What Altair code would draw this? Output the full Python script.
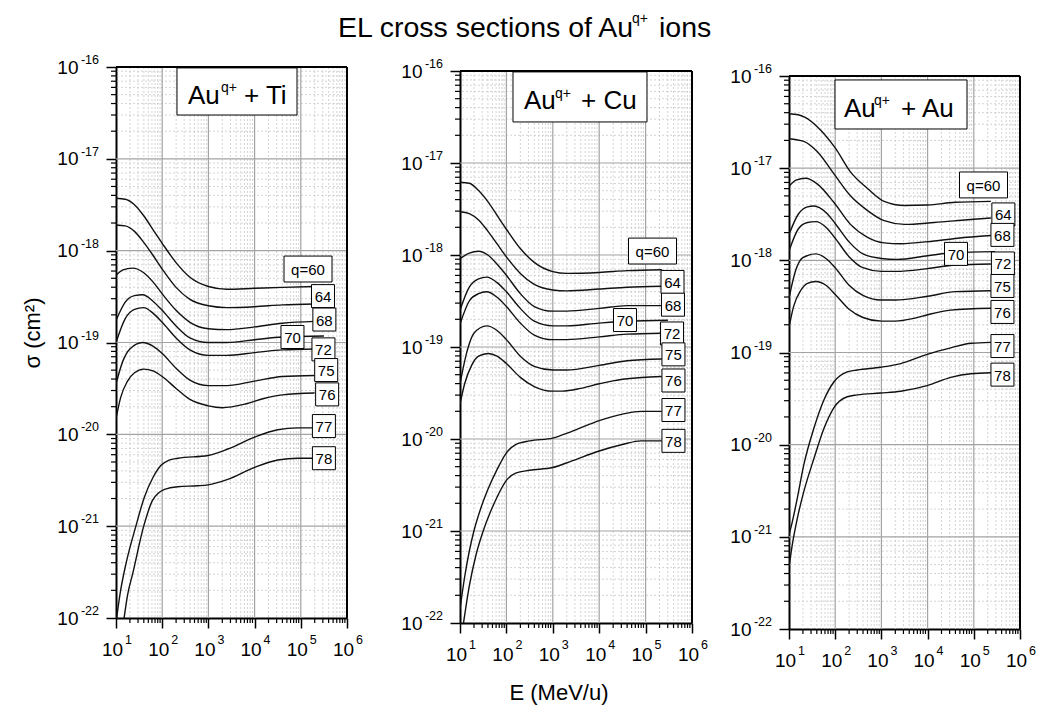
import altair as alt
import pandas as pd

FONT = "Liberation Sans"
# plot areas: left/right edges and top/bottom of each panel in the page
PANEL_W = [231, 232, 231]
GAPS = [113, 97]
VIEW_H = [551, 556, 562]     # every view starts at the same top; the bottoms differ
PLOT_TOP = [0, 4, 9]         # where 1e-16 sits inside each view

Q_ORDER = [60, 64, 68, 70, 72, 75, 76, 77, 78]
LABEL_TEXT = ["q=60", "64", "68", "70", "72", "75", "76", "77", "78"]

X_TICKS = [1e1, 1e2, 1e3, 1e4, 1e5, 1e6]
X_EXP = ["1", "2", "3", "4", "5", "6"]
Y_TICKS = [1e-22, 1e-21, 1e-20, 1e-19, 1e-18, 1e-17, 1e-16]
Y_EXP = ["-22", "-21", "-20", "-19", "-18", "-17", "-16"]

# ---------------- Au^q+ + Ti  (log10 E [MeV/u], log10 sigma [cm^2])
TI_LOGE = {
    60: [1.0, 1.2, 1.4, 1.6, 1.8, 2.0, 2.3, 2.6, 3.0, 3.4, 4.0, 4.6, 5.3],
    64: [1.0, 1.2, 1.4, 1.6, 1.8, 2.0, 2.3, 2.6, 3.0, 3.4, 4.0, 4.6, 5.3],
    68: [1.0, 1.15, 1.36, 1.6, 1.8, 2.0, 2.3, 2.6, 3.0, 3.4, 4.0, 4.6, 5.3],
    70: [1.0, 1.2, 1.4, 1.58, 1.8, 2.0, 2.3, 2.6, 3.0, 3.4, 4.0, 4.6, 5.5],
    72: [1.0, 1.2, 1.4, 1.6, 1.8, 2.0, 2.3, 2.6, 3.0, 3.4, 4.0, 4.6, 5.3],
    75: [1.0, 1.15, 1.3, 1.58, 1.8, 2.0, 2.3, 2.6, 3.0, 3.4, 4.0, 4.6, 5.3],
    76: [1.0, 1.1, 1.25, 1.4, 1.6, 1.8, 2.0, 2.3, 2.6, 3.0, 3.3, 3.8, 4.2, 4.6, 5.3],
    77: [1.0, 1.1, 1.22, 1.43, 1.61, 1.8, 1.97, 2.15, 2.34, 2.99, 3.42, 4.0, 4.5, 4.94, 5.26],
    78: [1.17, 1.25, 1.36, 1.6, 1.79, 2.05, 2.34, 2.77, 2.99, 3.42, 4.0, 4.5, 4.94, 5.26],
}
TI_LOGS = {
    60: [-17.43, -17.44, -17.50, -17.62, -17.77, -17.92, -18.13, -18.29, -18.39, -18.42, -18.41, -18.40, -18.39],
    64: [-17.72, -17.73, -17.79, -17.91, -18.05, -18.20, -18.40, -18.53, -18.60, -18.62, -18.61, -18.59, -18.58],
    68: [-18.27, -18.21, -18.19, -18.24, -18.34, -18.47, -18.65, -18.78, -18.85, -18.86, -18.83, -18.79, -18.77],
    70: [-18.76, -18.56, -18.49, -18.48, -18.55, -18.65, -18.82, -18.95, -19.00, -19.00, -18.97, -18.94, -18.93],
    72: [-19.00, -18.74, -18.64, -18.62, -18.68, -18.78, -18.95, -19.08, -19.14, -19.14, -19.11, -19.08, -19.07],
    75: [-19.45, -19.20, -19.07, -19.00, -19.04, -19.12, -19.28, -19.41, -19.47, -19.47, -19.42, -19.37, -19.36],
    76: [-19.83, -19.60, -19.42, -19.33, -19.29, -19.31, -19.37, -19.50, -19.62, -19.69, -19.71, -19.67, -19.61, -19.57, -19.55],
    77: [-22.05, -21.70, -21.40, -21.00, -20.69, -20.47, -20.34, -20.28, -20.26, -20.23, -20.16, -20.03, -19.95, -19.93, -19.93],
    78: [-22.02, -21.75, -21.52, -21.00, -20.72, -20.60, -20.57, -20.56, -20.55, -20.49, -20.36, -20.28, -20.26, -20.26],
}
TI_LAB_LOGE = [5.156, 5.48, 5.51, 4.82, 5.49, 5.55, 5.57, 5.50, 5.50]
TI_LAB_LOGS = [-18.20, -18.495, -18.75, -18.94, -19.075, -19.30, -19.565, -19.91, -20.26]

# ---------------- Au^q+ + Cu
CU_LOGE = {
    60: [1.0, 1.2, 1.4, 1.6, 1.8, 2.0, 2.3, 2.6, 3.0, 3.3, 4.0, 4.6, 5.35],
    64: [1.0, 1.2, 1.4, 1.6, 1.8, 2.0, 2.3, 2.6, 3.0, 3.3, 4.0, 4.6, 5.35],
    68: [1.0, 1.2, 1.4, 1.6, 1.8, 2.0, 2.3, 2.6, 3.0, 3.3, 4.0, 4.6, 5.35],
    70: [1.0, 1.2, 1.4, 1.575, 1.8, 2.0, 2.3, 2.6, 3.0, 3.3, 4.0, 4.6, 5.48],
    72: [1.0, 1.2, 1.4, 1.575, 1.8, 2.0, 2.3, 2.6, 3.0, 3.3, 4.0, 4.6, 5.35],
    75: [1.0, 1.15, 1.3, 1.575, 1.8, 2.0, 2.3, 2.6, 3.0, 3.3, 4.0, 4.6, 5.35],
    76: [1.0, 1.1, 1.25, 1.4, 1.61, 1.8, 2.0, 2.3, 2.6, 3.0, 3.2, 3.6, 4.0, 4.5, 5.35],
    77: [1.0, 1.1, 1.2, 1.3, 1.45, 1.6, 1.8, 2.0, 2.2, 2.5, 3.0, 3.4, 4.0, 4.5, 4.9, 5.35],
    78: [1.07, 1.2, 1.35, 1.5, 1.65, 1.8, 2.0, 2.2, 2.5, 3.0, 3.4, 4.0, 4.5, 4.9, 5.35],
}
CU_LOGS = {
    60: [-17.21, -17.22, -17.30, -17.42, -17.57, -17.72, -17.93, -18.08, -18.18, -18.20, -18.19, -18.17, -18.16],
    64: [-17.53, -17.55, -17.62, -17.74, -17.88, -18.02, -18.20, -18.32, -18.38, -18.39, -18.37, -18.35, -18.34],
    68: [-18.04, -17.98, -17.96, -18.00, -18.10, -18.22, -18.42, -18.56, -18.61, -18.61, -18.58, -18.55, -18.55],
    70: [-18.60, -18.35, -18.26, -18.24, -18.30, -18.40, -18.58, -18.72, -18.77, -18.77, -18.74, -18.72, -18.71],
    72: [-18.75, -18.50, -18.42, -18.40, -18.46, -18.56, -18.74, -18.87, -18.92, -18.92, -18.89, -18.86, -18.85],
    75: [-19.40, -19.05, -18.85, -18.77, -18.82, -18.92, -19.10, -19.21, -19.25, -19.25, -19.20, -19.15, -19.13],
    76: [-19.62, -19.40, -19.20, -19.10, -19.07, -19.10, -19.18, -19.33, -19.43, -19.48, -19.48, -19.45, -19.40, -19.35, -19.32],
    77: [-21.85, -21.50, -21.22, -21.00, -20.75, -20.55, -20.33, -20.15, -20.06, -20.02, -19.99, -19.92, -19.80, -19.73, -19.70, -19.70],
    78: [-22.02, -21.60, -21.25, -21.00, -20.80, -20.63, -20.45, -20.37, -20.34, -20.31, -20.24, -20.13, -20.06, -20.02, -20.02],
}
CU_LAB_LOGE = [5.149, 5.58, 5.59, 4.556, 5.57, 5.60, 5.60, 5.60, 5.60]
CU_LAB_LOGS = [-17.957, -18.293, -18.54, -18.707, -18.853, -19.08, -19.364, -19.685, -20.02]

# ---------------- Au^q+ + Au
AU_LOGE = {
    60: [1.0, 1.2, 1.35, 1.61, 2.0, 2.33, 2.7, 3.06, 3.5, 4.0, 4.6, 5.37],
    64: [1.0, 1.32, 1.61, 1.97, 2.33, 2.7, 3.06, 3.5, 4.14, 4.86, 5.37],
    68: [1.0, 1.15, 1.36, 1.61, 1.97, 2.33, 2.7, 3.06, 3.42, 4.14, 4.86, 5.37],
    70: [1.0, 1.2, 1.4, 1.54, 1.8, 2.0, 2.3, 2.6, 3.0, 3.34, 4.0, 4.5, 5.46],
    72: [1.0, 1.2, 1.4, 1.58, 1.8, 2.0, 2.3, 2.6, 3.0, 3.3, 4.0, 4.6, 5.37],
    75: [1.0, 1.15, 1.3, 1.58, 1.8, 2.0, 2.3, 2.6, 3.0, 3.3, 4.0, 4.6, 5.37],
    76: [1.0, 1.1, 1.25, 1.4, 1.58, 1.8, 2.0, 2.3, 2.6, 3.0, 3.3, 3.7, 4.0, 4.5, 5.37],
    77: [1.0, 1.07, 1.18, 1.32, 1.54, 1.76, 1.97, 2.26, 2.48, 2.98, 3.42, 3.99, 4.5, 4.94, 5.37],
    78: [1.0, 1.07, 1.18, 1.32, 1.54, 1.76, 1.97, 2.26, 2.48, 2.98, 3.42, 3.99, 4.5, 4.94, 5.37],
}
AU_LOGS = {
    60: [-16.41, -16.42, -16.45, -16.55, -16.78, -17.04, -17.22, -17.36, -17.405, -17.40, -17.37, -17.36],
    64: [-16.68, -16.71, -16.82, -17.06, -17.30, -17.46, -17.57, -17.61, -17.59, -17.56, -17.54],
    68: [-17.20, -17.13, -17.11, -17.17, -17.37, -17.61, -17.75, -17.81, -17.82, -17.79, -17.75, -17.73],
    70: [-17.72, -17.50, -17.42, -17.41, -17.48, -17.60, -17.80, -17.93, -17.98, -17.99, -17.95, -17.92, -17.905],
    72: [-17.90, -17.66, -17.59, -17.58, -17.64, -17.76, -17.96, -18.08, -18.12, -18.12, -18.09, -18.05, -18.04],
    75: [-18.41, -18.10, -17.97, -17.93, -17.98, -18.08, -18.27, -18.38, -18.43, -18.43, -18.39, -18.34, -18.33],
    76: [-18.73, -18.50, -18.33, -18.25, -18.23, -18.27, -18.37, -18.53, -18.62, -18.66, -18.66, -18.63, -18.59, -18.54, -18.52],
    77: [-20.98, -20.84, -20.58, -20.22, -19.82, -19.51, -19.32, -19.21, -19.19, -19.16, -19.12, -19.02, -18.95, -18.90, -18.89],
    78: [-21.33, -21.09, -20.80, -20.51, -20.15, -19.82, -19.60, -19.48, -19.46, -19.44, -19.42, -19.36, -19.27, -19.23, -19.22],
}
AU_LAB_LOGE = [5.21, 5.64, 5.62, 4.615, 5.63, 5.62, 5.62, 5.62, 5.62]
AU_LAB_LOGS = [-17.182, -17.502, -17.724, -17.93, -18.034, -18.278, -18.56, -18.93, -19.24]

# title boxes inside each panel: [log E left, log E right, log sigma top, log sigma bottom]
TI_BOX = [2.32, 4.918, -16.01, -16.523]
CU_BOX = [2.142, 5.03, -16.01, -16.554]
AU_BOX = [1.996, 4.853, -16.043, -16.575]

MAJOR_X = [1e2, 1e3, 1e4, 1e5]
MAJOR_Y = [1e-21, 1e-20, 1e-19, 1e-18, 1e-17]
MINOR_X = [m * 10.0 ** k for k in range(1, 6) for m in range(2, 10)]
MINOR_Y = [m * 10.0 ** k for k in range(-22, -16) for m in range(2, 10)]

xs = alt.Scale(type="log", domain=[10, 1e6])

xaxis = alt.Axis(values=X_TICKS, labelExpr="'10'", labelFont=FONT, labelFontSize=19,
                 labelColor="black", labelOffset=-4, labelPadding=12, labelFlush=False,
                 labelOverlap=False, labelBaseline="top", tickSize=10, tickColor="black",
                 tickWidth=1.5, domainColor="black", domainWidth=2, grid=False, title=None)
yaxis = alt.Axis(values=Y_TICKS, labelExpr="'10'", labelFont=FONT, labelFontSize=19,
                 labelColor="black", labelPadding=28, labelFlush=False, labelOverlap=False,
                 labelAlign="right", labelBaseline="middle", tickSize=10, tickColor="black",
                 tickWidth=1.5, domainColor="black", domainWidth=2, grid=False, title=None)

ONE = pd.DataFrame({"a": [0]})
SQ = "M-1,-1L1,-1L1,1L-1,1Z"
WIDE = "M-1,-0.54L1,-0.54L1,0.54L-1,0.54Z"


def panel(logE, logS, lab_e, lab_s, box, target, tdx, width, height, top, extras=()):
    ys = alt.Scale(type="log", domain=[1e-22, 1e-16], range=[height, top])

    def X(f):
        return alt.X(f, type="quantitative", scale=xs, axis=xaxis)

    def Y(f):
        return alt.Y(f, type="quantitative", scale=ys, axis=yaxis)

    rows = []
    for q in Q_ORDER:
        for i, (e, s) in enumerate(zip(logE[q], logS[q])):
            rows.append({"q": str(q), "i": i, "E": 10 ** e, "S": 10 ** s})
    cur = pd.DataFrame(rows)
    lab = pd.DataFrame({"E": [10 ** e for e in lab_e], "S": [10 ** s for s in lab_s],
                        "t": LABEL_TEXT, "wide": [t.startswith("q") for t in LABEL_TEXT]})
    bx = pd.DataFrame({"x1": [10 ** box[0]], "x2": [10 ** box[1]], "y1": [10 ** box[2]],
                       "y2": [10 ** box[3]], "ym": [10 ** ((box[2] + box[3]) / 2)]})

    minor_v = alt.Chart(pd.DataFrame({"v": MINOR_X})).mark_rule(
        color="#c9c9c9", strokeWidth=0.8, strokeDash=[2, 2]).encode(
        x=X("v"), y=alt.value(top), y2=alt.value(height))
    minor_h = alt.Chart(pd.DataFrame({"v": MINOR_Y})).mark_rule(
        color="#c9c9c9", strokeWidth=0.8, strokeDash=[2, 2]).encode(y=Y("v"))
    major_v = alt.Chart(pd.DataFrame({"v": MAJOR_X})).mark_rule(
        color="#a3a3a3", strokeWidth=1.2).encode(x=X("v"), y=alt.value(top), y2=alt.value(height))
    major_h = alt.Chart(pd.DataFrame({"v": MAJOR_Y})).mark_rule(
        color="#a3a3a3", strokeWidth=1.2).encode(y=Y("v"))
    lines = alt.Chart(cur).mark_line(color="#111111", strokeWidth=1.4,
                                     interpolate="monotone", clip=True).encode(
        x=X("E"), y=Y("S"), detail="q:N", order="i:Q")
    frame_top = alt.Chart(ONE).mark_rule(color="black", strokeWidth=2).encode(
        x=alt.value(0), x2=alt.value(width), y=alt.value(top))
    frame_right = alt.Chart(ONE).mark_rule(color="black", strokeWidth=2).encode(
        x=alt.value(width), y=alt.value(top), y2=alt.value(height))
    mt_y = alt.Chart(pd.DataFrame({"v": MINOR_Y})).mark_rule(color="black", strokeWidth=1.2).encode(
        y=Y("v"), x=alt.value(-5), x2=alt.value(0))
    mt_x = alt.Chart(pd.DataFrame({"v": MINOR_X})).mark_rule(color="black", strokeWidth=1.2).encode(
        x=X("v"), y=alt.value(height), y2=alt.value(height + 5))
    ey = alt.Chart(pd.DataFrame({"v": Y_TICKS, "t": Y_EXP})).mark_text(
        align="right", baseline="middle", dx=-17, dy=-7, fontSize=12.5, font=FONT, color="black").encode(
        y=Y("v"), x=alt.value(0), text="t:N")
    ex = alt.Chart(pd.DataFrame({"v": X_TICKS, "t": X_EXP})).mark_text(
        align="left", baseline="middle", dx=9, dy=22, fontSize=12.5, font=FONT, color="black").encode(
        x=X("v"), y=alt.value(height), text="t:N")
    box_n = alt.Chart(lab).transform_filter("!datum.wide").mark_point(
        shape=SQ, size=529, filled=True, fill="white", stroke="black", strokeWidth=1, opacity=1).encode(
        x=X("E"), y=Y("S"))
    box_w = alt.Chart(lab).transform_filter("datum.wide").mark_point(
        shape=WIDE, size=2304, filled=True, fill="white", stroke="black", strokeWidth=1, opacity=1).encode(
        x=X("E"), y=Y("S"))
    lab_t = alt.Chart(lab).mark_text(fontSize=15, font=FONT, color="black", baseline="middle", dy=1).encode(
        x=X("E"), y=Y("S"), text="t:N")
    trect = alt.Chart(bx).mark_rect(fill="white", stroke="black", strokeWidth=1).encode(
        x=X("x1"), x2="x2", y=Y("y1"), y2="y2")
    t1 = alt.Chart(bx).mark_text(align="left", baseline="alphabetic", dx=tdx[0], dy=12.5,
                                 fontSize=26, font=FONT, color="black").encode(
        x=X("x1"), y=Y("ym"), text=alt.value("Au"))
    t2 = alt.Chart(bx).mark_text(align="left", baseline="alphabetic", dx=tdx[1], dy=1,
                                 fontSize=14, font=FONT, color="black").encode(
        x=X("x1"), y=Y("ym"), text=alt.value("q+"))
    t3 = alt.Chart(bx).mark_text(align="left", baseline="alphabetic", dx=tdx[2], dy=12.5,
                                 fontSize=26, font=FONT, color="black").encode(
        x=X("x1"), y=Y("ym"), text=alt.value("+ " + target))
    layers = [minor_v, minor_h, major_v, major_h, lines, frame_top, frame_right, mt_y, mt_x, ey, ex,
              box_n, box_w, lab_t, trect, t1, t2, t3] + list(extras)
    return alt.layer(*layers).properties(width=width, height=height)


def txt(text, x, y, size, **kw):
    return alt.Chart(ONE).mark_text(text=text, fontSize=size, font=FONT, color="black", **kw).encode(
        x=alt.value(x), y=alt.value(y))


# anchor at the top-left corner of the page, so that the first view starts at (115, 66)
anchor = alt.Chart(ONE).mark_rule(color="white", strokeWidth=0.2).encode(
    x=alt.value(-115), x2=alt.value(-114.8), y=alt.value(-66), y2=alt.value(-66))
ytitle = txt("σ (cm²)", -83, 266, 22, angle=270, align="center", baseline="middle")

title_a = txt("EL cross sections of Au", -122, -30, 28.5, align="left", baseline="alphabetic")
title_q = txt("q+", 172, -44, 14, align="left", baseline="alphabetic")
title_b = txt("ions", 199, -30, 28.5, align="left", baseline="alphabetic")
xtitle = txt("E (MeV/u)", 99, 626, 22, align="center", baseline="middle")

p1 = panel(TI_LOGE, TI_LOGS, TI_LAB_LOGE, TI_LAB_LOGS, TI_BOX, "Ti", [11, 44, 67],
           PANEL_W[0], VIEW_H[0], PLOT_TOP[0], extras=[anchor, ytitle])
p2 = panel(CU_LOGE, CU_LOGS, CU_LAB_LOGE, CU_LAB_LOGS, CU_BOX, "Cu", [11, 42, 68],
           PANEL_W[1], VIEW_H[1], PLOT_TOP[1], extras=[title_a, title_q, title_b, xtitle])
p3 = panel(AU_LOGE, AU_LOGS, AU_LAB_LOGE, AU_LAB_LOGS, AU_BOX, "Au", [9, 39, 66],
           PANEL_W[2], VIEW_H[2], PLOT_TOP[2])


def spacer(w):
    return alt.Chart(ONE).mark_point(opacity=0).encode(x=alt.value(0), y=alt.value(0)).properties(
        width=w, height=10)


chart = alt.hconcat(p1, spacer(GAPS[0]), p2, spacer(GAPS[1]), p3, spacing=0, bounds="flush").properties(
    padding=0, background="white"
).configure_view(stroke="transparent")

chart.save("out.html", embed_options={"renderer": "svg", "actions": False})
